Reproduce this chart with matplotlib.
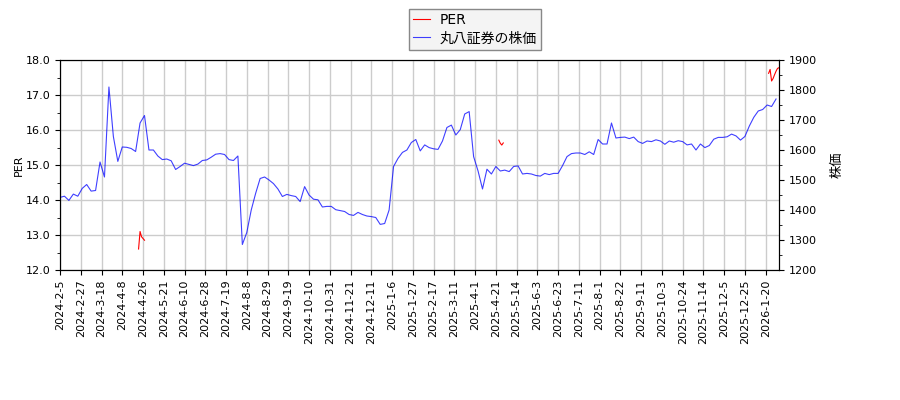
import numpy as np
import matplotlib
matplotlib.use("Agg")
import matplotlib.pyplot as plt
from matplotlib.ticker import MultipleLocator

plt.rcParams['font.family'] = ['DejaVu Sans', 'Noto Sans CJK JP']
plt.rcParams['font.size'] = 8

# x軸ラベル (14営業日ごと)
tick_labels = ['2024-2-5', '2024-2-27', '2024-3-18', '2024-4-8', '2024-4-26',
               '2024-5-21', '2024-6-10', '2024-6-28', '2024-7-19', '2024-8-8',
               '2024-8-29', '2024-9-19', '2024-10-10', '2024-10-31', '2024-11-21',
               '2024-12-11', '2025-1-6', '2025-1-27', '2025-2-17', '2025-3-11',
               '2025-4-1', '2025-4-21', '2025-5-14', '2025-6-3', '2025-6-23',
               '2025-7-11', '2025-8-1', '2025-8-22', '2025-9-11', '2025-10-3',
               '2025-10-24', '2025-11-14', '2025-12-5', '2025-12-25', '2026-1-20']
tick_step = 14
last_day = 485

# 株価 (3営業日ごとに読み取り)
price_step = 3
price = [1442, 1446, 1432, 1453, 1446, 1472, 1485, 1463, 1465, 1560,
         1510, 1810, 1645, 1562, 1610, 1609, 1605, 1595, 1690, 1715,
         1600, 1600, 1580, 1568, 1570, 1564, 1535, 1545, 1556, 1552,
         1548, 1553, 1565, 1567, 1576, 1586, 1588, 1585, 1568, 1565,
         1580, 1285, 1325, 1400, 1456, 1505, 1510, 1500, 1488, 1470,
         1445, 1452, 1448, 1445, 1428, 1478, 1450, 1436, 1434, 1410,
         1412, 1412, 1401, 1398, 1395, 1385, 1382, 1392, 1385, 1380,
         1378, 1375, 1352, 1355, 1400, 1545, 1572, 1592, 1600, 1625,
         1635, 1597, 1617, 1608, 1604, 1602, 1630, 1675, 1683, 1650,
         1668, 1720, 1728, 1578, 1530, 1470, 1536, 1520, 1545, 1530,
         1533, 1528, 1545, 1547, 1520, 1522, 1520, 1515, 1513, 1522,
         1518, 1522, 1522, 1548, 1578, 1588, 1590, 1590, 1585, 1594,
         1585, 1635, 1620, 1620, 1690, 1640, 1642, 1643, 1638, 1643,
         1628, 1622, 1630, 1628, 1634, 1630, 1619, 1630, 1626, 1631,
         1628, 1617, 1620, 1600, 1620, 1608, 1615, 1636, 1642, 1642,
         1644, 1653, 1647, 1633, 1645, 1680, 1709, 1730, 1735, 1750,
         1745, 1770]

# PER (データがある期間のみ)
per_start = [53, 296, 478]
per_values = [[12.6, 13.1, 12.95, 12.9, 12.85],
              [15.71, 15.62, 15.57, 15.63],
              [17.62, 17.73, 17.40, 17.47, 17.58, 17.68, 17.76, 17.78]]

fig = plt.figure(figsize=(9, 4), dpi=100)
ax1 = fig.add_axes([60/900, 130/400, 719/900, 210/400])
ax2 = ax1.twinx()

for i, (s, v) in enumerate(zip(per_start, per_values)):
    ax1.plot(s + np.arange(len(v)), v, color='red', lw=0.8,
             label='PER' if i == 0 else None)

x = np.arange(len(price)) * price_step
ax2.plot(x, price, color='blue', alpha=0.75, lw=0.8, label='丸八証券の株価')

ax1.set_ylim(12, 18)
ax2.set_ylim(1200, 1900)
ax1.yaxis.set_major_locator(MultipleLocator(1))
ax1.yaxis.set_minor_locator(MultipleLocator(0.5))
ax2.yaxis.set_major_locator(MultipleLocator(100))
ax2.yaxis.set_minor_locator(MultipleLocator(50))
ax1.yaxis.set_major_formatter('{x:.1f}')

ax1.set_xlim(0, last_day)
ax1.set_xticks(np.arange(len(tick_labels)) * tick_step)
ax1.set_xticklabels(tick_labels, rotation=90)

ax1.grid(True, color='#cccccc', lw=1)
ax1.set_axisbelow(True)
ax1.set_ylabel('PER', labelpad=1)
ax2.set_ylabel('株価', labelpad=10, fontsize=9.5)

h1, l1 = ax1.get_legend_handles_labels()
h2, l2 = ax2.get_legend_handles_labels()
leg = fig.legend(h1 + h2, l1 + l2, loc='upper left',
                 bbox_to_anchor=(409/900, 1 - 9/400), borderaxespad=0,
                 fancybox=False, framealpha=1, facecolor='#f4f4f4',
                 edgecolor='#888888', handlelength=1.2, handletextpad=0.7,
                 labelspacing=0.3, borderpad=0.3, fontsize=10)

plt.savefig('out.png', dpi=100)
